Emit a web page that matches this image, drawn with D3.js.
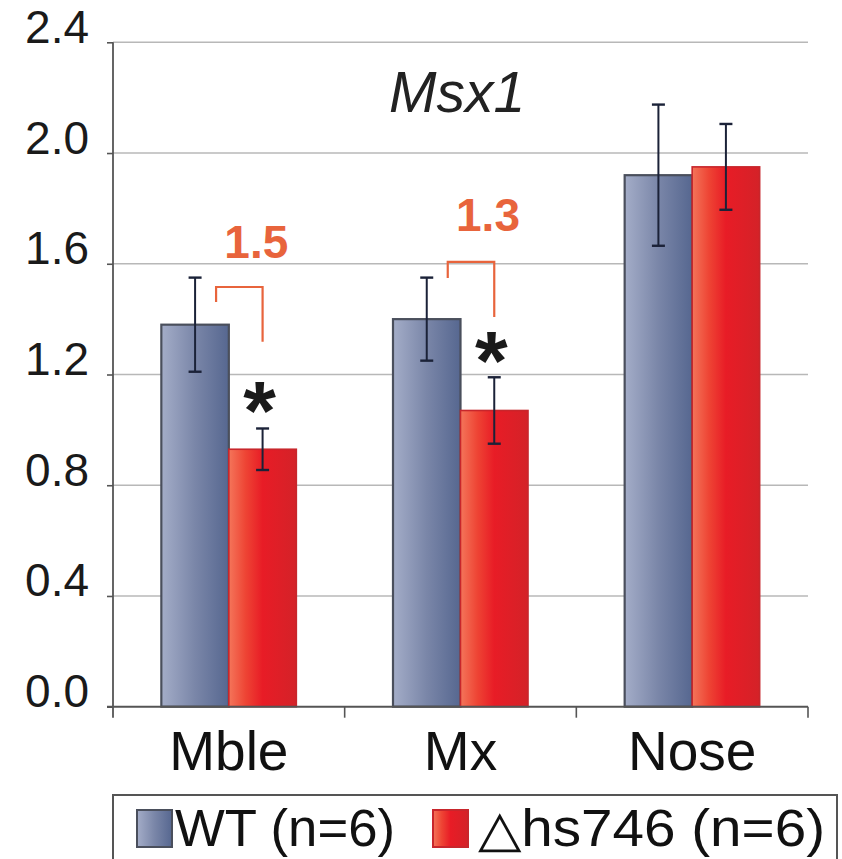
<!DOCTYPE html>
<html>
<head>
<meta charset="utf-8">
<script src="https://cdn.jsdelivr.net/npm/d3@7"></script>
<style>
  html, body { margin: 0; padding: 0; background: #ffffff; }
  svg { display: block; }
  text { font-family: "Liberation Sans", Arial, Helvetica, sans-serif; }
</style>
</head>
<body>
<svg id="chart" width="842" height="859"></svg>
<script>
// ---------- data ----------
const categories = ["Mble", "Mx", "Nose"];
const seriesNames = ["WT (n=6)", "\u25B3hs746 (n=6)"];
const wtValues   = [1.38, 1.40, 1.92];
const wtErrors   = [0.17, 0.15, 0.255];
const mutValues  = [0.93, 1.07, 1.95];
const mutErrors  = [0.075, 0.12, 0.155];
const yTicks = [0.0, 0.4, 0.8, 1.2, 1.6, 2.0, 2.4];
const chartTitle = "Msx1";
// significance annotations (category, fold label, bracket levels in data units)
const sigCategories = ["Mble", "Mx"];
const sigFold       = ["1.5", "1.3"];
const sigTopLevel   = [1.516, 1.607];
const sigLeftLevel  = [1.462, 1.549];
const sigRightLevel = [1.318, 1.408];
const sigFoldLevel  = [1.62, 1.72];
const sigStarLevel  = [1.127, 1.307];

// ---------- layout ----------
const svg = d3.select("#chart");
const pLeft = 113, pRight = 808, pTop = 42.3, pBottom = 706.7;

const y = d3.scaleLinear().domain([0, 2.4]).range([pBottom, pTop]);
const x0 = d3.scaleBand().domain(categories).range([pLeft, pRight]).paddingInner(0).paddingOuter(0);
const x1 = d3.scaleBand().domain(["wt", "mut"]).range([0, x0.bandwidth()]).paddingInner(0).paddingOuter(0.716);

// gradients
const defs = svg.append("defs");
const gWT = defs.append("linearGradient").attr("id", "gradWT").attr("x1", "0").attr("x2", "1").attr("y1", "0").attr("y2", "0");
gWT.append("stop").attr("offset", "0%").attr("stop-color", "#a4adc8");
gWT.append("stop").attr("offset", "50%").attr("stop-color", "#7a86a8");
gWT.append("stop").attr("offset", "100%").attr("stop-color", "#566790");
const gMut = defs.append("linearGradient").attr("id", "gradMut").attr("x1", "0").attr("x2", "1").attr("y1", "0").attr("y2", "0");
gMut.append("stop").attr("offset", "0%").attr("stop-color", "#f4755a");
gMut.append("stop").attr("offset", "25%").attr("stop-color", "#ee4434");
gMut.append("stop").attr("offset", "50%").attr("stop-color", "#e81c26");
gMut.append("stop").attr("offset", "100%").attr("stop-color", "#d42228");

// gridlines
svg.append("g").selectAll("line").data(yTicks.filter(d => d > 0)).join("line")
  .attr("x1", pLeft).attr("x2", pRight)
  .attr("y1", d => y(d)).attr("y2", d => y(d))
  .attr("stroke", "#b8b8b8").attr("stroke-width", 1.6);

// y axis
const yAxis = d3.axisLeft(y).tickValues(yTicks).tickFormat(d3.format(".1f")).tickSize(6).tickPadding(0);
const ya = svg.append("g").attr("transform", `translate(${pLeft},0)`).call(yAxis);
ya.select(".domain").remove();
ya.selectAll(".tick line").attr("stroke", "#555").attr("stroke-width", 1.6);
ya.selectAll(".tick text")
  .attr("x", -24).attr("dy", "0em").attr("y", 0)
  .attr("font-size", 46).attr("fill", "#1a1a1a")
  .style("font-family", "'Liberation Sans', Arial, sans-serif");
svg.append("line").attr("x1", pLeft).attr("x2", pLeft).attr("y1", pTop).attr("y2", pBottom + 11)
  .attr("stroke", "#555").attr("stroke-width", 1.8);

// bars
const groups = svg.append("g").selectAll("g").data(categories).join("g")
  .attr("transform", d => `translate(${x0(d)},0)`);

groups.append("rect")
  .attr("x", x1("wt")).attr("width", x1.bandwidth())
  .attr("y", (d, i) => y(wtValues[i])).attr("height", (d, i) => pBottom - y(wtValues[i]))
  .attr("fill", "url(#gradWT)").attr("stroke", "#4a4f5c").attr("stroke-width", 2.2);
groups.append("rect")
  .attr("x", x1("mut")).attr("width", x1.bandwidth())
  .attr("y", (d, i) => y(mutValues[i])).attr("height", (d, i) => pBottom - y(mutValues[i]))
  .attr("fill", "url(#gradMut)").attr("stroke", "#c8262c").attr("stroke-width", 1.6);

// error bars
function errBars(key, vals, errs) {
  const cx = x1(key) + x1.bandwidth() / 2;
  const g = groups.append("g");
  g.append("line").attr("x1", cx).attr("x2", cx)
    .attr("y1", (d, i) => y(vals[i] + errs[i])).attr("y2", (d, i) => y(vals[i] - errs[i]))
    .attr("stroke", "#1b2238").attr("stroke-width", 2);
  [1, -1].forEach(s => {
    g.append("line").attr("x1", cx - 6.5).attr("x2", cx + 6.5)
      .attr("y1", (d, i) => y(vals[i] + s * errs[i])).attr("y2", (d, i) => y(vals[i] + s * errs[i]))
      .attr("stroke", "#1b2238").attr("stroke-width", 2.4);
  });
}
errBars("wt", wtValues, wtErrors);
errBars("mut", mutValues, mutErrors);

// x axis
const xAxis = d3.axisBottom(x0).tickSize(0).tickPadding(0);
const xa = svg.append("g").attr("transform", `translate(0,${pBottom})`).call(xAxis);
xa.select(".domain").attr("stroke", "#555").attr("stroke-width", 2).attr("d", `M${pLeft - 6},0H${pRight}`);
xa.selectAll(".tick text").attr("y", 63).attr("dy", 0)
  .attr("font-size", 55).attr("fill", "#111")
  .style("font-family", "'Liberation Sans', Arial, sans-serif");
// category separators
svg.append("g").selectAll("line").data(categories.slice(1).concat(["__end"])).join("line")
  .attr("x1", d => d === "__end" ? pRight : x0(d)).attr("x2", d => d === "__end" ? pRight : x0(d))
  .attr("y1", pBottom).attr("y2", pBottom + 11)
  .attr("stroke", "#555").attr("stroke-width", 1.6);

// title
svg.append("text").attr("x", 457).attr("y", 112).attr("text-anchor", "middle")
  .attr("font-size", 57).attr("font-style", "italic").attr("fill", "#222").text(chartTitle);

// significance annotations
const orange = "#e8643c";
sigCategories.forEach((c, k) => {
  const wx = x0(c) + x1("wt") + x1.bandwidth() / 2;
  const mx = x0(c) + x1("mut") + x1.bandwidth() / 2;
  const lx = wx + 21;
  svg.append("path")
    .attr("d", `M${lx},${y(sigLeftLevel[k])}V${y(sigTopLevel[k])}H${mx}V${y(sigRightLevel[k])}`)
    .attr("fill", "none").attr("stroke", orange).attr("stroke-width", 2.2);
  svg.append("text").attr("x", (lx + mx) / 2 + 17).attr("y", y(sigFoldLevel[k]))
    .attr("text-anchor", "middle").attr("font-size", 46).attr("font-weight", "bold")
    .attr("fill", orange).text(sigFold[k]);
  svg.append("text").attr("x", mx - 3).attr("y", y(sigStarLevel[k]) + 45)
    .attr("text-anchor", "middle").attr("font-size", 84).attr("font-weight", "bold")
    .attr("fill", "#1a1a1a").text("*");
});

// legend
const lg = svg.append("g");
lg.append("rect").attr("x", 113).attr("y", 795).attr("width", 724).attr("height", 80)
  .attr("fill", "#fff").attr("stroke", "#555").attr("stroke-width", 2);
const legendX = [137, 433];
const legendTextX = [175, 478];
const legendTextLen = [220, 347];
const legendFill = ["url(#gradWT)", "url(#gradMut)"];
const legendStroke = ["#4a4f5c", "#c8262c"];
seriesNames.forEach((s, k) => {
  lg.append("rect").attr("x", legendX[k]).attr("y", 810).attr("width", 35).attr("height", 37)
    .attr("fill", legendFill[k]).attr("stroke", legendStroke[k]).attr("stroke-width", 2);
  lg.append("text").attr("x", legendTextX[k]).attr("y", 846)
    .attr("font-size", 51).attr("fill", "#111")
    .attr("textLength", legendTextLen[k]).attr("lengthAdjust", "spacingAndGlyphs")
    .text(s);
});
</script>
</body>
</html>
